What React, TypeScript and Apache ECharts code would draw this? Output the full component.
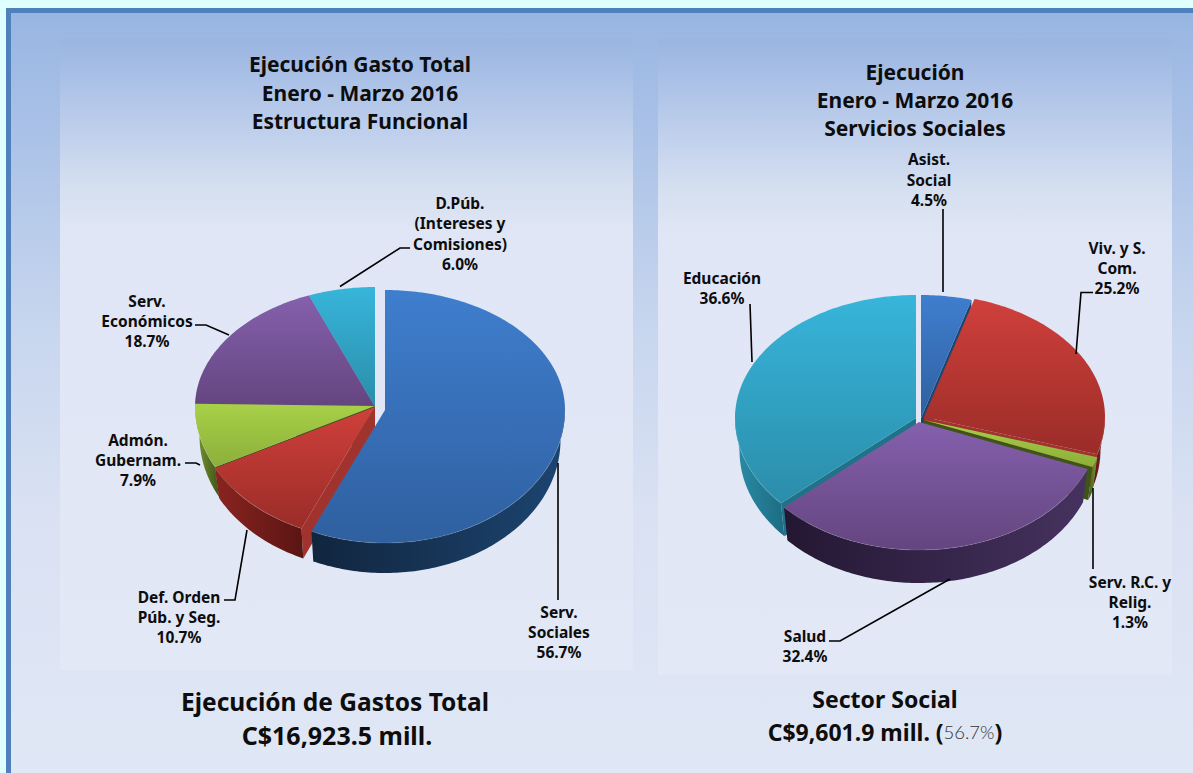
import React, { useEffect, useRef } from "react";
import * as echarts from "echarts";

// ---- data ----
const gastoCategories = ["Serv. Sociales", "Def. Orden Púb. y Seg.", "Admón. Gubernam.", "Serv. Económicos", "D.Púb. (Intereses y Comisiones)"];
const gastoValues = [56.7, 10.7, 7.9, 18.7, 6.0];
const socialCategories = ["Asist. Social", "Viv. y S. Com.", "Serv. R.C. y Relig.", "Salud", "Educación"];
const socialValues = [4.5, 25.2, 1.3, 32.4, 36.6];

const blue = { top: ["#3F7ECE", "#2F60A0"], side: ["#1C4570", "#11253E"], face: "#1C4570" };
const red = { top: ["#D0403B", "#9A2C28"], side: ["#8A2420", "#5A1513"], face: "#A0332E" };
const green = { top: ["#A8D048", "#8CAF3A"], side: ["#7A9A32", "#3F5418"], face: "#3F5418" };
const purple = { top: ["#8560AD", "#64457F"], side: ["#46325F", "#241733"], face: "#3A2950" };
const cyan = { top: ["#37B5DA", "#2B8DAA"], side: ["#2A8CA6", "#1C6C82"], face: "#1F7288" };

const gastoPalette = [blue, red, green, purple, cyan];
const socialPalette = [blue, red, green, purple, cyan];

const gastoLayout = {
  rx: 180, ryT: 120, ryB: 133, depth: 30, taper: 0.975,
  centers: [[385, 410], [375, 407], [375, 406], [375, 407], [375, 407]],
  drawOrder: [4, 3, 2, 1, 0],
};
const socialLayout = {
  rx: 181, ryT: 123, ryB: 128, depth: 33, taper: 0.975,
  centers: [[921, 418], [924, 417], [924, 420], [919, 422], [916, 418]],
  drawOrder: [0, 1, 4, 2, 3],
};

const FONT = "'Noto Sans'";

function pieSeries(values: number[], palette: any[], layout: any, z: number) {
  const total = values.reduce((a, b) => a + b, 0);
  let acc = 0;
  const spans = values.map((v) => {
    const a0 = (acc / total) * 360;
    acc += v;
    return [a0, (acc / total) * 360];
  });
  const seriesData = layout.drawOrder.map((i: number) => ({ value: [values[i]], sliceIndex: i }));
  return {
    type: "custom",
    coordinateSystem: "none",
    silent: true,
    z,
    data: seriesData,
    renderItem: (params: any) => {
      const i = seriesData[params.dataIndex].sliceIndex;
      const [a0, a1] = spans[i];
      const [cx, cy] = layout.centers[i];
      const col = palette[i];
      const pt = (deg: number): number[] => {
        const r = (deg * Math.PI) / 180;
        const c = Math.cos(r);
        return [cx + layout.rx * Math.sin(r), cy - c * (c > 0 ? layout.ryT : layout.ryB)];
      };
      const arc = (s: number, e: number) => {
        const out: number[][] = [];
        const n = Math.max(2, Math.ceil(e - s));
        for (let k = 0; k <= n; k++) out.push(pt(s + ((e - s) * k) / n));
        return out;
      };
      const children: any[] = [];
      const down = (p: number[]) => [cx + (p[0] - cx) * layout.taper, p[1] + layout.depth];
      const sinOf = (d: number) => Math.sin((d * Math.PI) / 180);
      const face = (d: number) => {
        const p = pt(d);
        children.push({
          type: "polygon",
          shape: { points: [[cx, cy], p, down(p), down([cx, cy])] },
          style: { fill: col.face },
        });
      };
      if (a0 > 0.01 && sinOf(a0) < 0) face(a0);
      if (a1 < 359.99 && sinOf(a1) > 0) face(a1);
      const s = Math.max(a0, 90);
      const e = Math.min(a1, 270);
      if (e > s) {
        const rim = arc(s, e);
        const lower = rim.map(down).reverse();
        children.push({
          type: "polygon",
          shape: { points: rim.concat(lower) },
          style: {
            fill: new echarts.graphic.LinearGradient(0, 0, 1, 0,
              s >= 180
                ? [{ offset: 0, color: col.side[0] }, { offset: 1, color: col.side[1] }]
                : [{ offset: 0, color: col.side[1] }, { offset: 1, color: col.side[0] }]),
          },
        });
      }
      children.push({
        type: "polygon",
        shape: { points: [[cx, cy]].concat(arc(a0, a1)) },
        style: {
          fill: new echarts.graphic.LinearGradient(0, 0, 0, 1, [
            { offset: 0, color: col.top[0] },
            { offset: 1, color: col.top[1] },
          ]),
        },
      });
      if (e > s) {
        children.push({
          type: "polyline",
          shape: { points: arc(s, e) },
          style: { fill: "none", stroke: "rgba(255,255,255,0.1)", lineWidth: 1.2 },
        });
      }
      return { type: "group", children };
    },
  };
}

const text = (x: number, y: number, t: string, size: number, lh: number, extra: any = {}) => ({
  type: "text",
  x,
  y,
  z: 20,
  silent: true,
  style: {
    text: t,
    x: 0,
    y: 0,
    align: "center",
    verticalAlign: "middle",
    fontFamily: FONT,
    fontWeight: "bold",
    fontSize: size,
    lineHeight: lh,
    fill: "#0D0D0D",
    ...extra,
  },
});

const leader = (pts: number[][]) => ({
  type: "polyline",
  z: 15,
  silent: true,
  shape: { points: pts },
  style: { stroke: "#000000", lineWidth: 1.6, fill: "none" },
});

const panel = (x: number, y: number, w: number, h: number) => ({
  type: "rect",
  z: 1,
  silent: true,
  shape: { x, y, width: w, height: h },
  style: {
    fill: new echarts.graphic.LinearGradient(0, 0, 0, 1, [
      { offset: 0, color: "#9AB5E2" },
      { offset: 0.15, color: "#C0D0EC" },
      { offset: 0.24, color: "#D6E0F0" },
      { offset: 0.31, color: "#E0E6F5" },
      { offset: 1, color: "#E2E8F5" },
    ]),
  },
});

export default function App() {
  const ref = useRef<HTMLDivElement>(null);
  useEffect(() => {
    document.body.style.margin = "0";
    const chart = echarts.init(ref.current!, undefined, { renderer: "svg" });
    chart.setOption({
      animation: false,
      backgroundColor: "#E0FFFF",
      graphic: {
        elements: [
          {
            type: "rect", z: 0, silent: true,
            shape: { x: 6, y: 8, width: 1187, height: 765 },
            style: { fill: "#4F81BD" },
          },
          {
            type: "rect", z: 0, silent: true,
            shape: { x: 11, y: 13, width: 1182, height: 760 },
            style: {
              fill: new echarts.graphic.LinearGradient(0, 0, 0, 1, [
                { offset: 0, color: "#98B5E2" },
                { offset: 0.4, color: "#C6D5EE" },
                { offset: 0.65, color: "#D9E1F3" },
                { offset: 1, color: "#E0E7F5" },
              ]),
            },
          },
          panel(60, 39, 573, 631),
          panel(658, 39, 514, 636),
          text(360, 92.5, "Ejecución Gasto Total\nEnero - Marzo 2016\nEstructura Funcional", 21, 28.5),
          text(915, 100, "Ejecución\nEnero - Marzo 2016\nServicios Sociales", 21, 28),
          text(460, 233.5, "D.Púb.\n(Intereses y\nComisiones)\n6.0%", 15.5, 20.3),
          text(147, 321, "Serv.\nEconómicos\n18.7%", 15.5, 20),
          text(138, 460, "Admón.\nGubernam.\n7.9%", 15.5, 20),
          text(179, 617, "Def. Orden\nPúb. y Seg.\n10.7%", 15.5, 20),
          text(559, 632, "Serv.\nSociales\n56.7%", 15.5, 20),
          text(929, 179.5, "Asist.\nSocial\n4.5%", 15.5, 20.5),
          text(1117, 268, "Viv. y S.\nCom.\n25.2%", 15.5, 20),
          text(722, 288, "Educación\n36.6%", 15.5, 20),
          text(1130, 602, "Serv. R.C. y\nRelig.\n1.3%", 15.5, 20),
          text(805, 646, "Salud\n32.4%", 15.5, 20),
          text(335, 701, "Ejecución de Gastos Total", 24.5, 30),
          text(337, 735, "C$16,923.5 mill.", 25, 30),
          text(885, 699, "Sector Social", 23, 28),
          {
            type: "text", x: 885, y: 732, z: 20, silent: true,
            style: {
              text: "{b|C$9,601.9 mill. (}{l|56.7%}{b|)}",
              align: "center", verticalAlign: "middle",
              rich: {
                b: { fontFamily: FONT, fontWeight: "bold", fontSize: 23, fill: "#0D0D0D" },
                l: { fontFamily: "Lato", fontWeight: 300, fontSize: 18.5, fill: "#333333" },
              },
            },
          },
          leader([[340, 286.5], [400, 248], [410, 248]]),
          leader([[195, 325], [206, 325], [229, 335]]),
          leader([[185, 463], [196, 463], [200, 465]]),
          leader([[247, 530], [235, 600], [224, 600]]),
          leader([[558, 463], [558, 600]]),
          leader([[943, 292], [943, 209]]),
          leader([[1076, 354], [1081, 292.5], [1093, 292.5]]),
          leader([[752, 362], [750, 304]]),
          leader([[1093, 488], [1093, 569]]),
          leader([[950, 579], [840, 641], [829, 641]]),
        ],
      },
      series: [
        pieSeries(gastoValues, gastoPalette, gastoLayout, 10),
        pieSeries(socialValues, socialPalette, socialLayout, 10),
      ],
    });
    return () => chart.dispose();
  }, []);
  return <div ref={ref} style={{ width: 1193, height: 773 }} />;
}
